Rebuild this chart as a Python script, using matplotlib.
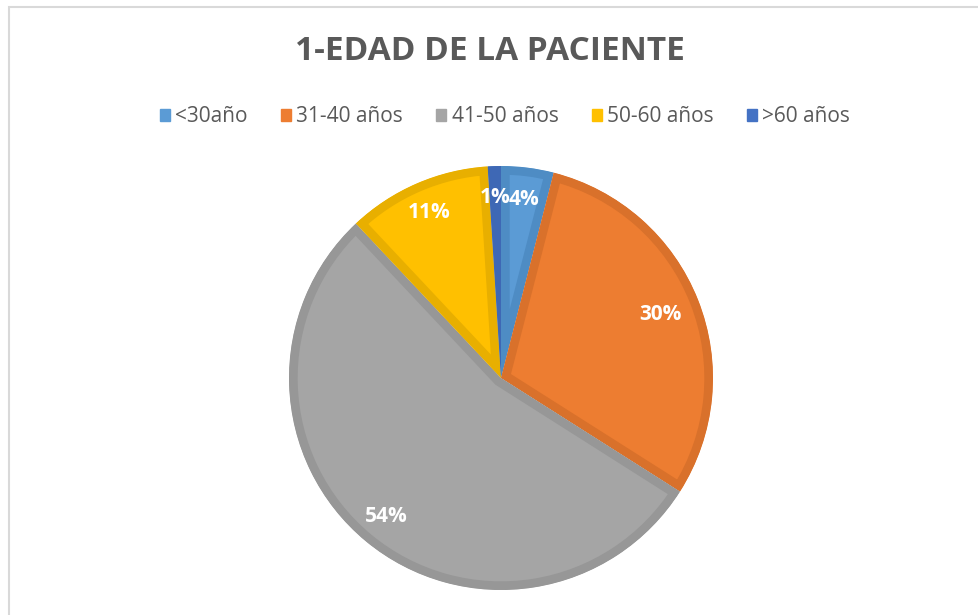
import matplotlib
matplotlib.use('Agg')
import matplotlib.pyplot as plt
import matplotlib.patches as mpatches

labels = ['<30año', '31-40 años', '41-50 años', '50-60 años', '>60 años']
valores = [4, 30, 54, 11, 1]
colores = ['#5B9BD5', '#ED7D31', '#A5A5A5', '#FFC000', '#4472C4']
bordes = ['#4E8CC4', '#D9712B', '#979797', '#E8AF00', '#3E68B5']

plt.rcParams['font.family'] = ['Open Sans', 'DejaVu Sans']

fig = plt.figure(figsize=(9.79, 6.15), dpi=100)

# marco gris claro del grafico
fig.patches.append(mpatches.Rectangle((9 / 979, -0.1), 1.2, 1 - 7 / 615 + 0.1,
                                      transform=fig.transFigure, fill=False,
                                      edgecolor='#D9D9D9', linewidth=1.5))

R = 212
cx, cy = 501, 378
ax = fig.add_axes([(cx - R) / 979, (615 - cy - R) / 615, 2 * R / 979, 2 * R / 615])

wedges, texts, autotexts = ax.pie(valores, colors=colores, startangle=90, counterclock=False,
                                  autopct='%1.0f%%', pctdistance=0.85, radius=1,
                                  wedgeprops=dict(linewidth=0))
for w, b in zip(wedges, bordes):
    w.set_edgecolor(b)
    w.set_linewidth(12.5)
    w.set_clip_on(True)
    w.set_clip_path(w)
for t in autotexts:
    t.set_color('white')
    t.set_fontsize(15)
    t.set_fontweight('bold')
px, py = autotexts[1].get_position()
autotexts[1].set_position((px * 0.81 / 0.85, py * 0.81 / 0.85))
ax.set_xlim(-1, 1)
ax.set_ylim(-1, 1)
ax.set_aspect('equal')
ax.axis('off')

fig.text(0.5, 1 - 52 / 615, '1-EDAD DE LA PACIENTE', ha='center', va='center',
         fontsize=24, fontweight='bold', color='#595959')

handles = [mpatches.Patch(color=c) for c in colores]
fig.legend(handles, labels, loc='center', bbox_to_anchor=(0.516, 1 - 117 / 615), ncol=5,
           frameon=False, fontsize=15, handlelength=0.48, handleheight=0.48,
           handletextpad=0.25, columnspacing=1.6, labelcolor='#595959')

plt.savefig('out.png', dpi=100)
